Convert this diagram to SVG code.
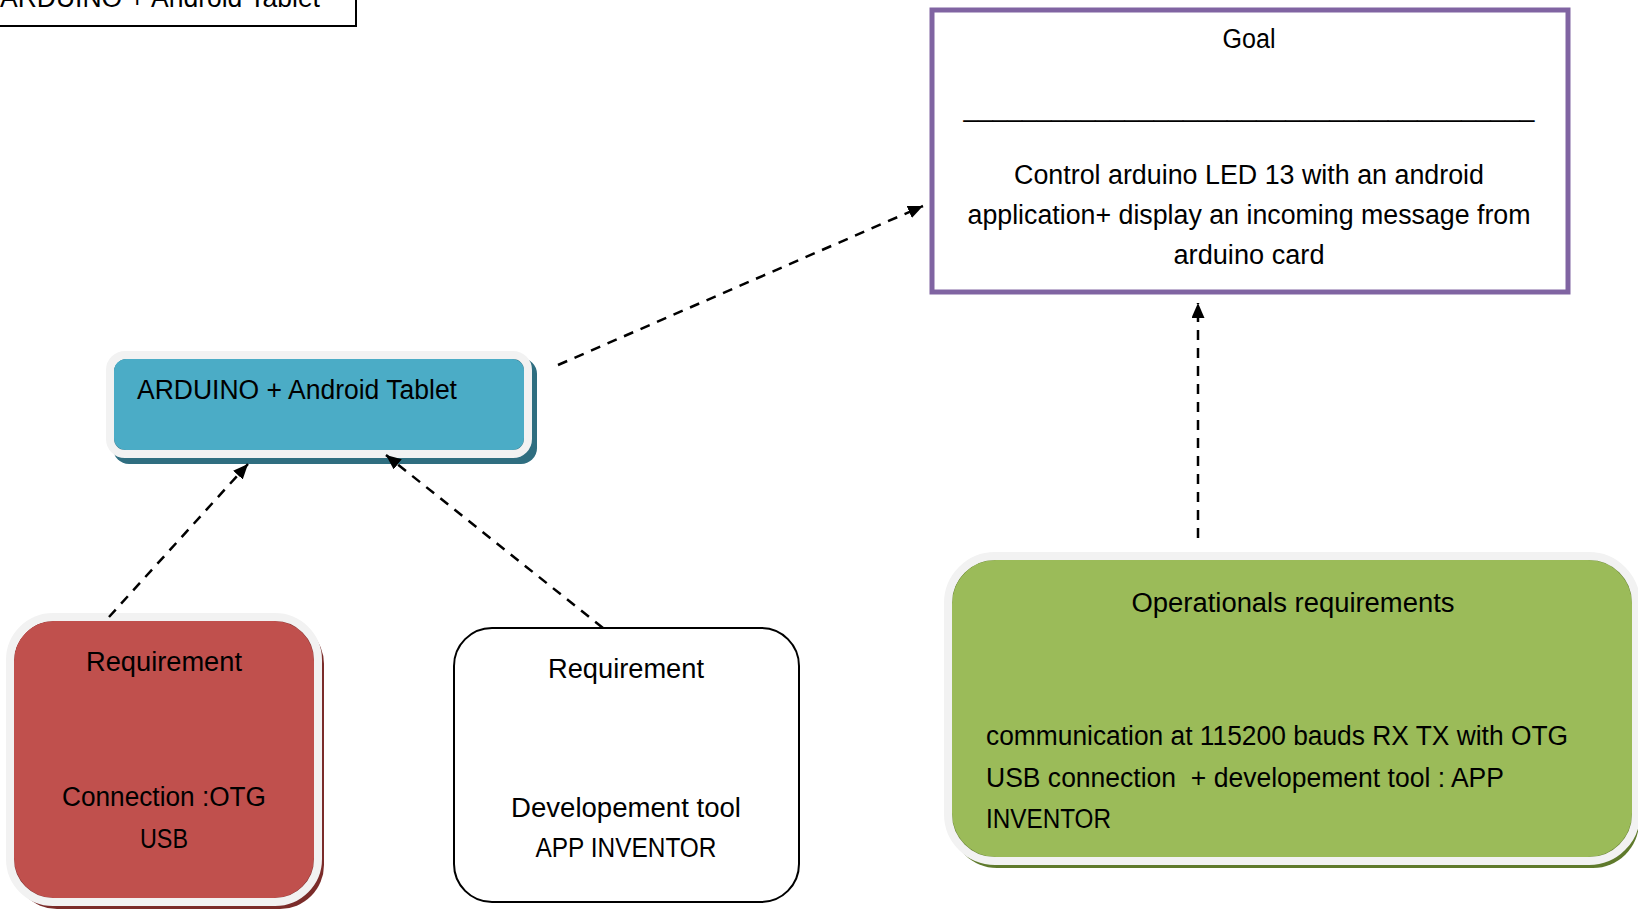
<svg xmlns="http://www.w3.org/2000/svg" width="1638" height="911" viewBox="0 0 1638 911">
<defs>
<style>
text{font-family:"Liberation Sans",Arial,sans-serif;font-size:27px;fill:#000}
.c{text-anchor:middle}
.conn{fill:none;stroke:#000;stroke-width:2.5;stroke-dasharray:10 8;marker-end:url(#ah)}
.rim{fill:none;stroke:#f2f2f2;stroke-width:8}
</style>
<marker id="ah" viewBox="0 0 15 13" refX="15" refY="6.5" markerWidth="15" markerHeight="13" markerUnits="userSpaceOnUse" orient="auto">
<path d="M0,0 L15,6.5 L0,13 z" fill="#000"/>
</marker>
</defs>
<rect width="1638" height="911" fill="#fff"/>

<g id="title-box">
<rect x="-5" y="-10" width="361" height="36" fill="#fff" stroke="#000" stroke-width="2"/>
<text x="0" y="7" textLength="320" lengthAdjust="spacingAndGlyphs">ARDUINO + Android Tablet</text>
</g>

<g id="goal">
<rect x="932" y="10" width="636" height="282" fill="#fff" stroke="#8064a2" stroke-width="5"/>
<text class="c" x="1249" y="48" textLength="53" lengthAdjust="spacingAndGlyphs">Goal</text>
<text class="c" x="1249" y="116" textLength="571" lengthAdjust="spacingAndGlyphs">_______________________________________</text>
<text class="c" x="1249" y="184" textLength="470" lengthAdjust="spacingAndGlyphs">Control arduino LED 13 with an android</text>
<text class="c" x="1249" y="224" textLength="563" lengthAdjust="spacingAndGlyphs">application+ display an incoming message from</text>
<text class="c" x="1249" y="264" textLength="151" lengthAdjust="spacingAndGlyphs">arduino card</text>
</g>

<g id="arduino">
<rect x="113" y="358" width="424" height="106" rx="16" fill="#2f6e80"/>
<rect x="114" y="359" width="410" height="91" rx="12" fill="#4bacc6"/>
<rect x="110" y="355" width="418" height="99" rx="15" class="rim"/>
<text x="137" y="399" textLength="320" lengthAdjust="spacingAndGlyphs">ARDUINO + Android Tablet</text>
</g>

<g id="req-otg">
<rect x="13" y="620" width="311" height="289" rx="44" fill="#7b2c2a"/>
<rect x="14" y="621" width="300" height="277" rx="40" fill="#c0504d"/>
<rect x="10" y="617" width="308" height="285" rx="43" class="rim"/>
<text class="c" x="164" y="671" textLength="156" lengthAdjust="spacingAndGlyphs">Requirement</text>
<text class="c" x="164" y="806" textLength="204" lengthAdjust="spacingAndGlyphs">Connection :OTG</text>
<text class="c" x="164" y="848" textLength="48" lengthAdjust="spacingAndGlyphs">USB</text>
</g>

<g id="req-tool">
<rect x="454" y="628" width="345" height="274" rx="38" fill="#fff" stroke="#000" stroke-width="2"/>
<text class="c" x="626" y="678" textLength="156" lengthAdjust="spacingAndGlyphs">Requirement</text>
<text class="c" x="626" y="817" textLength="230" lengthAdjust="spacingAndGlyphs">Developement tool</text>
<text class="c" x="626" y="857" textLength="181" lengthAdjust="spacingAndGlyphs">APP INVENTOR</text>
</g>

<g id="operational">
<rect x="951" y="559" width="688" height="309" rx="46" fill="#5f7a2c"/>
<rect x="952" y="560" width="680" height="297" rx="44" fill="#9bbb59"/>
<rect x="948" y="556" width="688" height="305" rx="47" class="rim"/>
<text class="c" x="1293" y="612" textLength="323" lengthAdjust="spacingAndGlyphs">Operationals requirements</text>
<text x="986" y="745" textLength="582" lengthAdjust="spacingAndGlyphs">communication at 115200 bauds RX TX with OTG</text>
<text x="986" y="787" textLength="518" lengthAdjust="spacingAndGlyphs" xml:space="preserve">USB connection  + developement tool : APP</text>
<text x="986" y="828" textLength="125" lengthAdjust="spacingAndGlyphs">INVENTOR</text>
</g>

<g id="connectors">
<line class="conn" x1="558" y1="365" x2="923" y2="206"/>
<line class="conn" x1="109" y1="617" x2="248" y2="464"/>
<line class="conn" x1="603" y1="628" x2="386" y2="455"/>
<line class="conn" x1="1198" y1="538" x2="1198" y2="303"/>
</g>
</svg>
